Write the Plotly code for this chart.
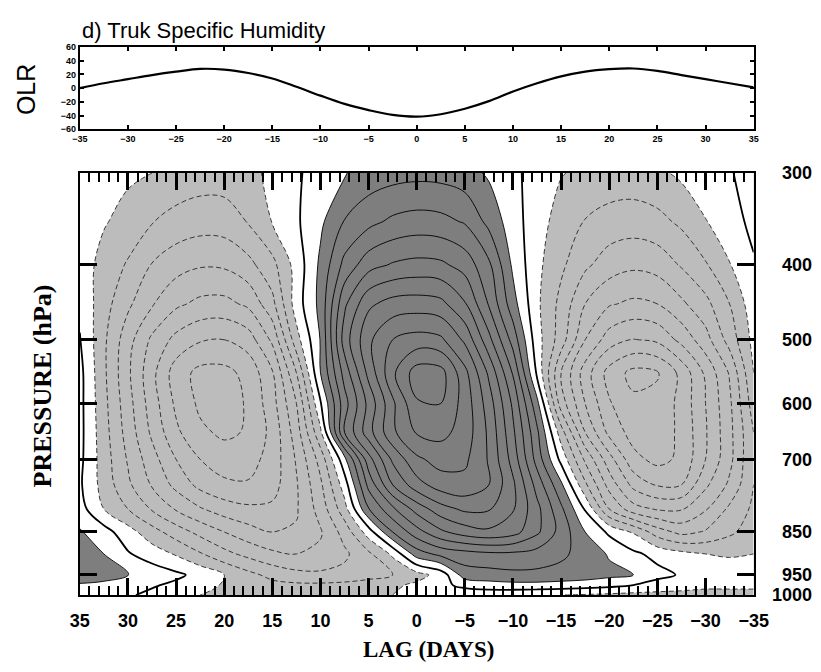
import plotly.graph_objects as go

# ---------------------------------------------------------------
# OLR composite (W m-2) against lag (days)
# ---------------------------------------------------------------
olr_lag = [-35, -32.5, -30, -27.5, -25, -22.5, -20, -17.5, -15, -12.5, -10, -7.5,
           -5, -2.5, 0, 2.5, 5, 7.5, 10, 12.5, 15, 17.5, 20, 22.5, 25, 27.5, 30,
           32.5, 35]
olr = [0, 7, 13, 19, 24, 28, 27, 22, 14, 2, -11, -23,
       -32, -39, -41.5, -38, -30, -19, -5, 7, 17, 24, 27.5, 28.5, 25, 19, 13,
       7, 1]

# ---------------------------------------------------------------
# Specific humidity anomaly composite at Truk (units of 0.1 g/kg)
# rows: pressure levels, columns: lag (days)
# ---------------------------------------------------------------
lag = [35, 32.5, 30, 27.5, 25, 22.5, 20, 17.5, 15, 12.5, 10, 7.5, 5, 2.5, 0,
       -2.5, -5, -7.5, -10, -12.5, -15, -17.5, -20, -22.5, -25, -27.5, -30,
       -32.5, -35]
pressure = [300, 350, 400, 450, 500, 550, 600, 650, 700, 750, 800, 850, 900,
            950, 975, 1000]

q_300 = [-0.5, -0.7, -0.8, -1.0, -1.3, -1.5, -1.5, -1.3, -0.75, -0.15, 0.45, 0.95, 1.4, 1.6, 1.7,
         1.65, 1.4, 0.85, 0.2, -0.35, -0.95, -1.2, -1.35, -1.4, -1.2, -0.8, -0.4, -0.1, 0.5]
q_350 = [-0.5, -0.9, -1.4, -1.95, -2.35, -2.55, -2.5, -1.95, -0.95, -0.15, 0.8, 2.05, 2.7, 3.2, 3.4,
         3.3, 2.9, 1.7, 0.45, -0.6, -1.4, -2.05, -2.4, -2.5, -2.3, -1.8, -1.05, -0.4, 0.25]
q_400 = [-0.4, -1.4, -2.1, -3.05, -3.6, -3.9, -3.85, -3.3, -2.3, -0.6, 1.2, 3.3, 4.6, 5.1, 5.3,
         5.2, 4.6, 3.2, 0.8, -0.75, -1.8, -2.8, -3.5, -3.8, -3.6, -2.9, -2.1, -1.05, -0.1]
q_450 = [-0.2, -1.6, -2.8, -3.9, -4.8, -5.25, -5.3, -4.8, -3.3, -0.5, 1.3, 4.8, 6.8, 7.4, 7.5,
         7.3, 6.1, 3.9, 1.4, -0.8, -2.3, -4.0, -4.9, -5.2, -5.0, -4.2, -3.3, -2.0, -0.4]
q_500 = [0.05, -1.8, -3.6, -5.2, -6.3, -6.9, -7.0, -6.5, -4.8, -1.4, 1.05, 5.5, 7.8, 9.0, 9.4,
         9.2, 7.8, 5.3, 2.6, -0.6, -2.5, -5.0, -6.5, -7.05, -6.8, -5.7, -4.4, -2.6, -0.7]
q_550 = [0.3, -1.8, -3.8, -5.7, -7.5, -8.3, -8.3, -7.7, -6.1, -3.0, 1.0, 4.4, 7.3, 9.8, 11.5,
         11.4, 9.3, 6.8, 3.9, -0.2, -4.0, -6.5, -8.4, -9.3, -9.1, -7.7, -5.8, -3.9, -1.0]
q_600 = [0.3, -1.7, -3.6, -5.5, -7.2, -8.2, -8.4, -7.9, -6.4, -4.0, -0.1, 3.6, 6.3, 8.8, 10.9,
         11.0, 9.6, 7.5, 4.8, 1.3, -3.5, -6.0, -7.9, -8.8, -8.7, -7.7, -6.0, -4.2, -1.5]
q_650 = [0.3, -1.6, -3.4, -5.2, -6.8, -7.8, -8.2, -7.9, -6.7, -4.5, -1.2, 4.0, 6.6, 8.8, 10.1,
         10.3, 9.6, 7.8, 5.2, 2.2, -1.55, -5.0, -7.3, -8.4, -8.5, -7.8, -6.1, -4.3, -2.0]
q_700 = [0.25, -1.5, -3.1, -4.6, -6.0, -7.0, -7.5, -7.4, -6.6, -4.9, -2.6, 0.7, 4.6, 7.2, 8.8,
         9.4, 9.2, 7.9, 5.6, 2.6, -0.3, -3.2, -5.6, -7.7, -8.3, -7.8, -6.0, -4.3, -2.0]
q_750 = [0.15, -1.4, -2.8, -4.1, -5.3, -6.3, -6.8, -6.9, -6.4, -5.1, -3.2, -0.5, 3.3, 6.0, 7.6,
         8.5, 8.7, 8.0, 6.2, 3.6, 1.2, -1.8, -4.4, -6.3, -7.1, -7.0, -5.2, -3.8, -2.0]
q_800 = [0.4, -1.0, -2.0, -3.1, -4.1, -4.9, -5.5, -5.8, -5.8, -5.1, -3.6, -1.4, 1.95, 3.8, 5.4,
         6.6, 7.2, 7.1, 6.1, 4.3, 2.2, -0.1, -3.0, -4.6, -5.1, -5.1, -4.1, -2.8, -1.8]
q_850 = [1.1, 0.4, -0.6, -1.6, -2.5, -3.3, -4.0, -4.6, -5.0, -4.9, -4.1, -2.6, -0.5, 2.0, 3.6,
         4.8, 5.5, 5.8, 5.4, 4.2, 2.6, 1.0, -0.2, -1.1, -2.5, -3.3, -2.9, -2.2, -1.5]
q_900 = [1.6, 1.0, 0.1, -0.5, -1.1, -1.9, -2.7, -3.3, -3.8, -4.0, -3.8, -3.2, -2.2, -0.8, 1.5,
         2.3, 2.6, 2.8, 2.8, 2.6, 2.2, 1.6, 0.9, 0.2, -0.3, -0.7, -1.0, -1.1, -1.0]
q_950 = [2.0, 1.5, 1.05, 0.6, 0.2, -0.3, -1.0, -1.7, -2.3, -2.7, -2.8, -2.7, -2.4, -2.0, -1.4,
         -0.6, 1.5, 1.6, 1.75, 1.75, 1.65, 1.5, 1.25, 1.0, 0.3, -0.1, -0.4, -0.5, -0.6]
q_975 = [0.8, 0.7, 0.4, 0.1, -0.2, -0.6, -1.1, -1.5, -1.7, -1.8, -1.8, -1.7, -1.5, -1.2, -0.8,
         -0.3, 0.3, 0.6, 0.7, 0.7, 0.6, 0.5, 0.3, 0.0, -0.4, -0.6, -0.8, -0.8, -0.8]
q_1000 = [0.3, 0.2, 0.1, -0.2, -0.6, -1.0, -1.2, -1.3, -1.3, -1.3, -1.3, -1.2, -1.1, -1.0, -0.9,
          -0.8, -0.7, -0.7, -0.8, -0.9, -1.0, -1.1, -1.2, -1.3, -1.3, -1.3, -1.3, -1.3, -1.3]

q_anom = [q_300, q_350, q_400, q_450, q_500, q_550, q_600, q_650, q_700, q_750,
          q_800, q_850, q_900, q_950, q_975, q_1000]

p_tick_vals = [300, 400, 500, 600, 700, 850, 950, 1000]


# vertical coordinate: pressure scaled as p**0.2
def p_scale(p):
    return p ** 0.2


y_levels = [p_scale(p) for p in pressure]
# contour grids are handed to plotly with lag increasing
x_grid = lag[::-1]
z_grid = [row[::-1] for row in q_anom]

# three-digit pressure labels sit a little further from the frame than "1000"
NBSP = "\u00a0"
p_tick_text = [(NBSP * 2 + str(p)) if p < 1000 else str(p) for p in p_tick_vals]

DARK = "rgb(126,126,126)"
LIGHT = "rgb(188,188,188)"

fig = go.Figure()

# --- OLR panel -------------------------------------------------
fig.add_trace(go.Scatter(
    x=olr_lag, y=olr, mode="lines", line=dict(color="black", width=2.2, shape="spline"),
    xaxis="x", yaxis="y", showlegend=False, hoverinfo="skip"))

# --- humidity panel ---------------------------------------------
common = dict(x=x_grid, y=y_levels, z=z_grid, xaxis="x2", yaxis="y2",
              showscale=False, hoverinfo="skip")

# shading: below -1 light, between white, above +1 dark
fig.add_trace(go.Contour(
    **common,
    contours=dict(coloring="fill", start=-1, end=1, size=2, showlines=False),
    colorscale=[[0, LIGHT], [0.25, LIGHT], [0.25, "white"], [0.75, "white"],
                [0.75, DARK], [1, DARK]],
    line=dict(width=0)))

# positive contours (solid)
fig.add_trace(go.Contour(
    **common, contours=dict(coloring="none", start=1, end=12, size=1),
    line=dict(color="black", width=0.9, smoothing=1.0)))
# negative contours (dashed)
fig.add_trace(go.Contour(
    **common, contours=dict(coloring="none", start=-10, end=-1, size=1),
    line=dict(color="rgb(40,40,40)", width=0.9, dash="5px,3px", smoothing=1.0)))
# zero line
fig.add_trace(go.Contour(
    **common, contours=dict(coloring="none", start=0, end=0, size=1),
    line=dict(color="black", width=1.8, smoothing=1.0)))

X_DOM = [72 / 821, 767 / 821]

fig.update_layout(
    width=821, height=672,
    margin=dict(l=0, r=0, t=0, b=0),
    paper_bgcolor="white", plot_bgcolor="white",
    showlegend=False,
    xaxis=dict(
        domain=X_DOM, anchor="y", range=[-35, 35], tick0=0, dtick=5,
        ticks="inside", ticklen=4, tickwidth=1.5, tickcolor="black",
        showline=True, linewidth=2, linecolor="black", mirror="ticks",
        showgrid=False, zeroline=False,
        tickfont=dict(family="Liberation Sans", size=9, color="black", weight="bold"),
    ),
    yaxis=dict(
        domain=[1 - 123 / 672, 1 - 38 / 672], anchor="x", range=[-60, 60], dtick=20,
        ticks="inside", ticklen=4, tickwidth=1.5, tickcolor="black",
        showline=True, linewidth=2, linecolor="black", mirror="ticks",
        showgrid=False, zeroline=False,
        tickfont=dict(family="Liberation Sans", size=9, color="black", weight="bold"),
    ),
    xaxis2=dict(
        domain=X_DOM, anchor="y2", range=[35, -35], tick0=0, dtick=5,
        ticks="inside", ticklen=17, tickwidth=2.5, tickcolor="black",
        minor=dict(dtick=1, ticks="inside", ticklen=9, tickwidth=2, tickcolor="black"),
        showline=True, linewidth=2, linecolor="black", mirror="ticks",
        showgrid=False, zeroline=False, ticklabelstandoff=8,
        tickfont=dict(family="Liberation Sans", size=18, color="black", weight="bold"),
    ),
    yaxis2=dict(
        domain=[1 - 603 / 672, 1 - 168 / 672], anchor="x2",
        range=[p_scale(1000), p_scale(300)],
        tickvals=[p_scale(p) for p in p_tick_vals],
        ticktext=p_tick_text,
        side="right", ticks="inside", ticklen=17, tickwidth=3, tickcolor="black",
        showline=True, linewidth=1.5, linecolor="black", mirror="ticks",
        showgrid=False, zeroline=False, ticklabelstandoff=13,
        tickfont=dict(family="Liberation Sans", size=18, color="black", weight="bold"),
    ),
    annotations=[
        dict(text="d) Truk Specific Humidity", x=72 / 821, y=1 - 21 / 672,
             xref="paper", yref="paper", xanchor="left", yanchor="middle",
             showarrow=False, font=dict(family="Liberation Sans", size=22, color="black")),
        dict(text="OLR", x=16 / 821, y=1 - 82 / 672, textangle=-90,
             xref="paper", yref="paper", xanchor="center", yanchor="middle",
             showarrow=False, font=dict(family="Liberation Sans", size=25, color="black")),
        dict(text="<b>PRESSURE (hPa)</b>", x=33 / 821, y=1 - 387 / 672, textangle=-90,
             xref="paper", yref="paper", xanchor="center", yanchor="middle",
             showarrow=False, font=dict(family="Liberation Serif", size=26, color="black")),
        dict(text="<b>LAG (DAYS)</b>", x=432 / 821, y=1 - 659 / 672,
             xref="paper", yref="paper", xanchor="center", yanchor="middle",
             showarrow=False, font=dict(family="Liberation Serif", size=23, color="black")),
    ],
)

fig.write_html("out.html")
